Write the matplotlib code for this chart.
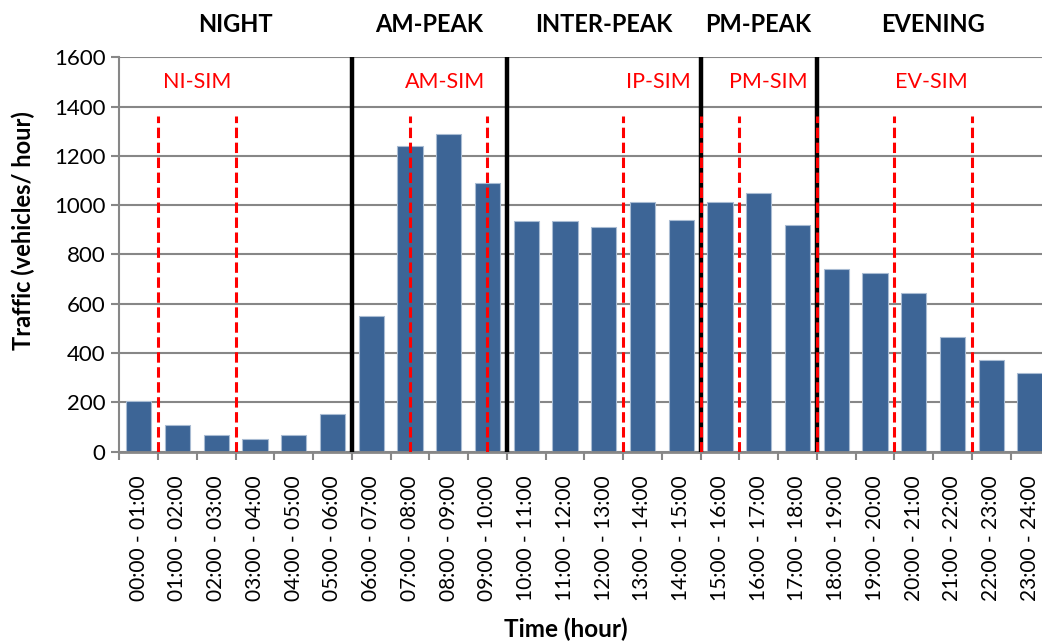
import matplotlib
matplotlib.use("Agg")
import matplotlib.pyplot as plt
from matplotlib.transforms import blended_transform_factory

# Hourly traffic volumes
hours = [f"{h:02d}:00 - {h + 1:02d}:00" for h in range(24)]
traffic = [206, 107, 68, 52, 68, 153, 551, 1242, 1289, 1091,
           934, 937, 912, 1012, 940, 1014, 1048, 920,
           741, 726, 642, 465, 372, 318]

# Time-of-day periods (start/end hour boundaries)
periods = ["NIGHT", "AM-PEAK", "INTER-PEAK", "PM-PEAK", "EVENING"]
period_bounds = [0, 6, 10, 15, 18, 24]

# Simulated sub-period windows (hour marks)
sim_labels = ["NI-SIM", "AM-SIM", "IP-SIM", "PM-SIM", "EV-SIM"]
sim_marks = [1, 3, 7.5, 9.5, 13, 15, 16, 18, 20, 22]
sim_label_pos = [2.0, 8.4, 13.9, 16.75, 20.95]
sim_top = 1360

plt.rcParams["font.family"] = ["Lato", "DejaVu Sans"]

W, H = 1042, 642
fig = plt.figure(figsize=(W / 100, H / 100), dpi=100)
ax = fig.add_axes([119.3 / W, 1 - 451.7 / H,
                   (24 * 38.75) / W, (451.7 - 57.3) / H])

x = list(range(len(hours)))
ax.bar(x, traffic, width=0.65, color="#3D6596", edgecolor="#A9BCD3",
       linewidth=0.8, zorder=2)

ax.set_xlim(-0.5, 23.5)
ax.set_ylim(0, 1600)
ax.set_yticks(range(0, 1601, 200))
ax.yaxis.grid(True, color="#878787", linewidth=1.5, zorder=0)
ax.set_axisbelow(True)

# ticks at category boundaries, labels centred on bars
ax.set_xticks([i - 0.5 for i in range(25)], minor=False)
ax.set_xticklabels([])
ax.set_xticks(x, minor=True)
ax.set_xticklabels(hours, minor=True, rotation=90, fontsize=15)
ax.tick_params(axis="x", which="minor", length=0, pad=17)
ax.tick_params(axis="x", which="major", length=6, width=1.5, color="#878787")
ax.tick_params(axis="y", length=6, width=1.5, color="#878787",
               labelsize=16, pad=4)

for side in ("top", "right"):
    ax.spines[side].set_visible(False)
ax.spines["left"].set_color("#878787")
ax.spines["left"].set_linewidth(1.5)
ax.spines["bottom"].set_color("#878787")
ax.spines["bottom"].set_linewidth(2)

fig.text(23 / W, 1 - 231 / H, "Traffic (vehicles/ hour)", rotation=90,
         ha="center", va="center", fontsize=17, fontweight="bold")
fig.text(566 / W, 1 - 629 / H, "Time (hour)",
         ha="center", va="center", fontsize=17.5, fontweight="bold")

# period separators
for b in period_bounds[1:-1]:
    ax.axvline(b - 0.5, color="black", linewidth=3.2, zorder=3)

# simulation window markers
for m in sim_marks:
    ax.plot([m - 0.5, m - 0.5], [0, sim_top], color="#FF0000",
            linewidth=2.2, linestyle=(0, (3.4, 1.5)), zorder=4)

trans = blended_transform_factory(ax.transData, ax.transAxes)
for name, lo, hi in zip(periods, period_bounds[:-1], period_bounds[1:]):
    ax.text((lo + hi) / 2 - 0.5, 1.082, name, transform=trans,
            ha="center", va="center", fontsize=17, fontweight="bold")

for name, pos in zip(sim_labels, sim_label_pos):
    ax.text(pos - 0.5, 1500, name, ha="center", va="center",
            fontsize=15.5, color="#FF0000")

fig.savefig("out.png", dpi=100)
